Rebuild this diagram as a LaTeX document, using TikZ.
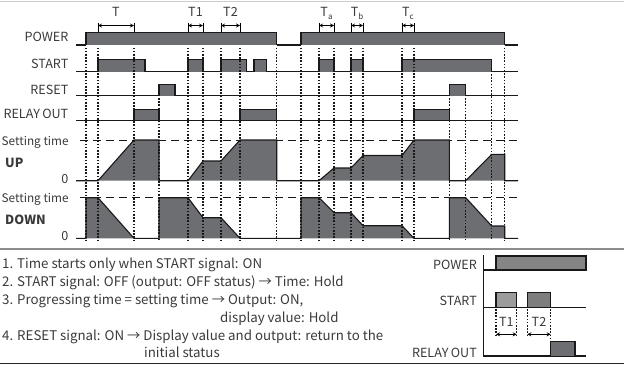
\documentclass[tikz,border=0pt]{standalone}
\usepackage{fontspec}
\setmainfont{Noto Sans CJK SC}
\definecolor{sigfill}{HTML}{6D6E71}
\definecolor{txtgray}{HTML}{3A3A3A}
\definecolor{pwrfill}{HTML}{858585}
\definecolor{lightfill}{HTML}{9B9B9B}
\definecolor{midfill}{HTML}{7D7D7D}
\newcommand\tsub[1]{T\raisebox{-0.45ex}{\fontsize{8}{8}\selectfont #1}}

\begin{document}
\begin{tikzpicture}[x=1pt,y=-1pt,line join=miter,>=stealth,
  every node/.style={inner sep=0pt,text=txtgray},
  sig/.style={line width=1.1pt,draw=black!90},
  vdot/.style={line width=1.1pt,draw=black!90,dash pattern=on 1.6pt off 1.6pt},
  setln/.style={line width=0.9pt,draw=black!90,dash pattern=on 8pt off 5pt},
  lbl/.style={anchor=base east,font=\fontsize{12.6}{14}\selectfont},
  note/.style={anchor=base west,font=\fontsize{13.3}{15}\selectfont}]
  \useasboundingbox (0,0) rectangle (624,367);
  \def\us{140}
  \def\uz{180.7}
  \def\ds{197.7}
  \def\dz{238.3}
  \draw[line width=1pt,black!20] (0,1) -- (624,1);
  % row labels
  \node[lbl] (lpower) at (68.5,41.7) {POWER};
  \node[lbl] (lstart) at (68.5,68.3) {START};
  \node[lbl] (lreset) at (68.5,94) {RESET};
  \node[lbl] (lrelay) at (68.5,118.3) {RELAY\kern-0.5pt\ OUT};
  \node[lbl,anchor=base west,font=\fontsize{11.8}{14}\selectfont] (lsetup) at (1.5,145) {Setting time};
  \node[lbl,anchor=base west] (lup) at (5,167.3) {\bfseries UP};
  \node[lbl] (lzeroup) at (68.5,183.3) {0};
  \node[lbl,anchor=base west,font=\fontsize{11.8}{14}\selectfont] (lsetdn) at (1.5,202.7) {Setting time};
  \node[lbl,anchor=base west] (ldown) at (5,224) {\bfseries DOWN};
  \node[lbl] (lzerodn) at (68.5,240.7) {0};
  % time spans
  \foreach \a/\b/\t [count=\i] in {98/134/T,188/203/T1,221/240/T2,319/334/\tsub{a},351/363/\tsub{b},402/414/\tsub{c}} {
    \draw[line width=0.8pt] (\a,22.5) -- (\a,32.5);
    \draw[line width=0.8pt] (\b,22.5) -- (\b,32.5);
    \draw[<->,line width=0.8pt] (\a,25.5) -- (\b,25.5);
    \node[anchor=base,font=\fontsize{12.6}{14}\selectfont] (span\i) at ({(\a+\b)/2},16.7) {\t};
  }
  % setting level
  \draw[setln] (80,\us) -- (518,\us);
  \draw[setln] (80,\ds) -- (518,\ds);
  % signals
  \draw[sig] (76,45) -- (86,45);
  \draw[sig] (504.7,45) -- (518,45);
  \draw[sig] (276.7,45) -- (301,45);
  \foreach \a/\b in {86/276.7,301/504.7}
    \draw[sig,fill=sigfill] (\a,45) |- (\b,32.5) -- (\b,45);
  \draw[sig] (76,71.7) -- (518,71.7);
  \foreach \a/\b in {98/145,188/203,221/246.7,254/266.7,319/334,351/363,402/491.7}
    \draw[sig,fill=sigfill] (\a,71.7) |- (\b,59.5) -- (\b,71.7);
  \draw[sig] (76,95.7) -- (518,95.7);
  \foreach \a/\b in {159/175,449.3/465.7}
    \draw[sig,fill=sigfill] (\a,95.7) |- (\b,84.3) -- (\b,95.7);
  \draw[sig] (76,120.3) -- (518,120.3);
  \foreach \a/\b in {134/159,240/276.7,414/449.3}
    \draw[sig,fill=sigfill] (\a,120.3) |- (\b,109.3) -- (\b,120.3);
  \draw[sig,fill=sigfill] (76,\uz) -- (98,\uz) -- (134,\us) -- (159,\us) -- (159,\uz)
    -- (188,\uz) -- (203,161) -- (221,161) -- (240,\us) -- (276.7,\us) -- (276.7,\uz)
    -- (319,\uz) -- (334,168) -- (351,168) -- (363,155.5) -- (402,155.5) -- (414,\us)
    -- (449.3,\us) -- (449.3,\uz) -- (465.7,\uz) -- (491.7,154.3) -- (504.7,154.3)
    -- (504.7,\uz) -- (518,\uz);
  \draw[sig,fill=sigfill] (76,\dz) -- (86,\dz) -- (86,\ds) -- (98,\ds) -- (134,\dz)
    -- (159,\dz) -- (159,\ds) -- (188,\ds) -- (203,217.7) -- (221,217.7) -- (240,\dz)
    -- (301,\dz) -- (301,\ds) -- (319,\ds) -- (334,212.7) -- (351,212.7) -- (363,225.7)
    -- (402,225.7) -- (414,\dz) -- (449.3,\dz) -- (449.3,\ds) -- (465.7,\ds)
    -- (491.7,226) -- (504.7,226) -- (504.7,\dz) -- (518,\dz);
  % edges
  \foreach \xx in {86,98,134,188,203,221,240,276.7,301,319,334,351,363,402,414,504.7}
    \draw[vdot] (\xx,47.5) -- (\xx,240);
  \foreach \xx in {159,449.3,465.7}
    \draw[vdot] (\xx,98) -- (\xx,240);
  \draw[vdot] (491.7,74) -- (491.7,240);
  % notes
  \draw[line width=1.2pt,black!45] (0,249) -- (624,249);
  \draw[line width=1.6pt,black!85] (0,363.5) -- (624,363.5);
  \node[note] (note1) at (2,268.3) {1. Time starts only when START signal: ON};
  \node[note] (note2) at (2,286) {2. START signal: OFF (output: OFF status) → Time: Hold};
  \node[note] (note3) at (2,304) {3. Progressing time = setting time → Output: ON,};
  \node[note] (note4) at (220,322.3) {display value: Hold};
  \node[note] (note5) at (2,340) {4. RESET signal: ON → Display value and output: return to the};
  \node[note] (note6) at (144,357.3) {initial status};
  % small chart
  \node[lbl] (spower) at (477,269) {POWER};
  \node[lbl] (sstart) at (477,305.7) {START};
  \node[lbl] (srelay) at (477,357) {RELAY\kern-0.5pt\ OUT};
  \draw[sig] (483.3,255) -- (483.3,356.5);
  \draw[sig] (483.3,270) -- (496,270);
  \draw[sig,fill=pwrfill] (496,256) rectangle (586,270);
  \draw[sig] (483.3,307.3) -- (586,307.3);
  \draw[sig,fill=lightfill] (496,307.3) |- (516.7,292.7) -- (516.7,307.3);
  \draw[sig,fill=midfill] (527.3,307.3) |- (550.7,292.7) -- (550.7,307.3);
  \draw[sig] (483.3,356) -- (586,356);
  \draw[sig,fill=sigfill] (550.7,356) |- (575,341.7) -- (575,356);
  \foreach \xx in {496,516.7,527.3}
    \draw[vdot] (\xx,309) -- (\xx,337);
  \draw[vdot] (550.7,309) -- (550.7,341);
  \draw[<->,line width=0.8pt] (496,334.3) -- (516.7,334.3);
  \draw[<->,line width=0.8pt] (527.3,334.3) -- (550.7,334.3);
  \node[anchor=base,font=\fontsize{12.6}{14}\selectfont] (st1) at (506.3,326.7) {T1};
  \node[anchor=base,font=\fontsize{12.6}{14}\selectfont] (st2) at (539,326.7) {T2};
\end{tikzpicture}
\end{document}
